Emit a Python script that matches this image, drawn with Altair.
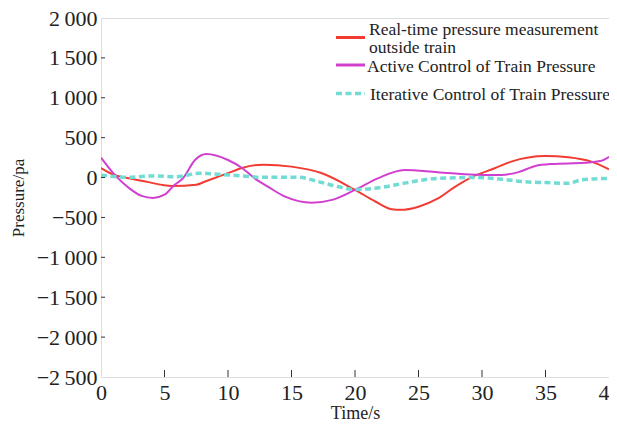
import altair as alt
import pandas as pd

# ---- data ----
red_t = [0, 1.1, 2.1, 3.5, 5.6, 7.5, 8.2, 10, 11.1, 12.8, 15, 17.4, 20, 21.6, 22.9, 23.6, 25, 26.5, 27.9, 29.4, 31, 32.3, 35, 36.8, 38.6, 40]
red_v = [120, 30, -5, -50, -105, -90, -50, 55, 120, 162, 137, 54, -155, -300, -397, -405, -365, -265, -114, 20, 116, 200, 270, 254, 200, 104]

mag_t = [0, 1.1, 2.2, 3.2, 4.1, 5.0, 5.7, 6.5, 7.4, 8.3, 10, 11.1, 12.1, 13.2, 14.5, 16.6, 18.2, 20, 21.8, 23.9, 26.5, 30, 31.5, 32.8, 34.2, 35.5, 38.1, 39.4, 40]
mag_v = [250, 30, -130, -230, -255, -215, -105, 0, 220, 295, 220, 120, -10, -120, -240, -315, -280, -155, -10, 95, 68, 33, 33, 65, 145, 170, 185, 210, 260]

cyan_t = [0, 2.1, 4.2, 5.8, 7.9, 8.9, 11.1, 12.8, 15.5, 17.1, 18.7, 20, 20.8, 22.4, 23.9, 26.5, 29.4, 31.5, 33.1, 35, 36.8, 37.8, 40]
cyan_v = [30, 4, 20, 10, 55, 45, 20, 3, 5, -50, -115, -150, -145, -115, -70, -10, 0, -20, -50, -63, -72, -30, -10]

x_ticks = [0, 5, 10, 15, 20, 25, 30, 35, 40]
y_ticks = [2000, 1500, 1000, 500, 0, -500, -1000, -1500, -2000, -2500]

legend_labels = ["Real-time pressure measurement\noutside train",
                 "Active Control of Train Pressure",
                 "Iterative Control of Train Pressure"]

RED = "#f23b32"
MAG = "#d13fcf"
CYAN = "#72dcd4"
FONT = "Liberation Serif"

W, H = 508, 359

xs = alt.Scale(domain=[0, 40], nice=False)
ys = alt.Scale(domain=[-2500, 2000], nice=False)

xaxis = alt.Axis(values=x_ticks, ticks=False, domain=False, grid=False, labelFont=FONT,
                 labelFontSize=22, labelColor="#222", labelPadding=5, labelOverlap=False,
                 labelFlush=False, title="Time/s",
                 titleFont=FONT, titleFontSize=18, titleFontWeight="normal", titleColor="#222",
                 titleBaseline="alphabetic", titleY=41)
yaxis = alt.Axis(values=y_ticks, ticks=False, domain=False, grid=False, labelFont=FONT,
                 labelFontSize=22, labelColor="#222", labelPadding=4, labelOverlap=False,
                 labelFlush=False,
                 labelExpr="replace(format(datum.value, ','), ',', '\u2009')",
                 title="Pressure/pa", titleFont=FONT, titleFontSize=17,
                 titleFontWeight="normal", titleColor="#222", titlePadding=9)

def series(t, v, color, dash=None, width=2):
    df = pd.DataFrame({"t": t, "v": v})
    kw = dict(color=color, strokeWidth=width, interpolate="monotone", clip=True)
    if dash:
        kw["strokeDash"] = dash
    return alt.Chart(df).mark_line(**kw).encode(
        x=alt.X("t:Q", scale=xs, axis=xaxis),
        y=alt.Y("v:Q", scale=ys, axis=yaxis),
    )

red = series(red_t, red_v, RED)
mag = series(mag_t, mag_v, MAG)
cyan = series(cyan_t, cyan_v, CYAN, dash=[6, 3.5], width=3.5)

# inward ticks
xt = alt.Chart(pd.DataFrame({"t": x_ticks[1:-1]})).mark_rule(color="#333", strokeWidth=1).encode(
    x=alt.X("t:Q", scale=xs, axis=xaxis), y=alt.value(H), y2=alt.value(H - 7))
yt = alt.Chart(pd.DataFrame({"v": y_ticks[1:-1]})).mark_rule(color="#333", strokeWidth=1).encode(
    y=alt.Y("v:Q", scale=ys, axis=yaxis), x=alt.value(0), x2=alt.value(4))

# legend
leg_df = pd.DataFrame({"label": legend_labels})
def leg_line(color, ypix, dash=None, width=3):
    kw = dict(color=color, strokeWidth=width)
    if dash:
        kw["strokeDash"] = dash
    return alt.Chart(pd.DataFrame({"a": [0]})).mark_rule(**kw).encode(
        x=alt.value(235), x2=alt.value(264), y=alt.value(ypix))

def leg_text(i, xpix, ypix):
    return alt.Chart(leg_df.iloc[[i]]).mark_text(
        font=FONT, fontSize=17.5, color="#222", align="left", baseline="alphabetic",
        lineBreak="\n", lineHeight=18).encode(
        text="label:N", x=alt.value(xpix), y=alt.value(ypix))

legend = (leg_line(RED, 19.5) + leg_text(0, 268, 16.5) +
          leg_line(MAG, 47) + leg_text(1, 266, 54) +
          leg_line(CYAN, 75.5, dash=[6, 3.5], width=3.5) + leg_text(2, 269, 81.5))

chart = alt.layer(red, mag, cyan, xt, yt, legend).properties(
    width=W, height=H,
    autosize=alt.AutoSizeParams(type="none"),
    padding={"left": 93, "top": 10, "right": 0, "bottom": 42},
).configure_view(stroke="#333", strokeWidth=1).configure(background="white")

chart.save("out.html", embed_options={"renderer": "svg", "actions": False})
